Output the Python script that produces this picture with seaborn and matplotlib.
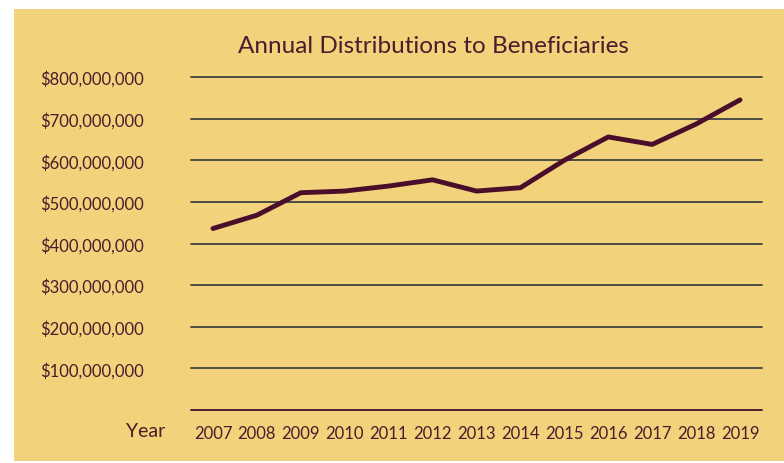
import numpy as np
import pandas as pd
import matplotlib
matplotlib.use("Agg")
import matplotlib.pyplot as plt
import seaborn as sns
from matplotlib.patches import Rectangle
from matplotlib.ticker import FuncFormatter

years = [2007, 2008, 2009, 2010, 2011, 2012, 2013, 2014, 2015, 2016, 2017, 2018, 2019]
distributions = [436e6, 468e6, 522e6, 526e6, 538e6, 553e6, 526e6, 534e6, 600e6, 656e6, 638e6, 687e6, 745e6]
y_ticks = [0, 100e6, 200e6, 300e6, 400e6, 500e6, 600e6, 700e6, 800e6]

BG = "#F2D27A"
TEXT = "#4A1C2C"
LINE = "#4A0E2B"
GRID = "#404040"

sns.set_theme(style="white")
plt.rcParams["font.family"] = ["Lato", "DejaVu Sans"]

df = pd.DataFrame({"year": years, "value": distributions})

fig = plt.figure(figsize=(7.84, 4.64), dpi=100)
fig.patch.set_facecolor("white")
fig.add_artist(Rectangle((14 / 784, 0.005), 1, (464 - 10) / 464 - 0.005,
                         transform=fig.transFigure, facecolor=BG,
                         edgecolor="none", zorder=-5))

ax = fig.add_axes([191 / 784, 53 / 464, 571 / 784, 333 / 464])
ax.set_facecolor("none")

for v in y_ticks:
    ax.axhline(v, color=LINE if v == 0 else GRID, lw=1.3, zorder=1, clip_on=False)

sns.lineplot(data=df, x="year", y="value", color=LINE, lw=3.5, ax=ax, zorder=3,
             solid_capstyle="round")

ax.set_xlim(years[0] - 0.5, years[-1] + 0.5)
ax.set_ylim(0, 800e6)
ax.set_xticks(years)
ax.set_xticklabels([str(y) for y in years])
ax.set_yticks(y_ticks[1:])
ax.yaxis.set_major_formatter(FuncFormatter(lambda v, p: "${:,.0f}".format(v)))
ax.tick_params(axis="y", length=0, pad=34, labelsize=12, labelcolor=TEXT)
ax.tick_params(axis="x", length=0, pad=11, labelsize=12, labelcolor=TEXT)
for s in ax.spines.values():
    s.set_visible(False)
ax.set_xlabel("")
ax.set_ylabel("")

fig.text(165 / 784, 1 - 432 / 464, "Year", ha="right", va="center",
         fontsize=14, color=TEXT)
fig.text(433 / 784, 1 - 47 / 464, "Annual Distributions to Beneficiaries",
         ha="center", va="center", fontsize=17.5, color=TEXT)

fig.savefig("out.png", dpi=100, facecolor=fig.get_facecolor())
